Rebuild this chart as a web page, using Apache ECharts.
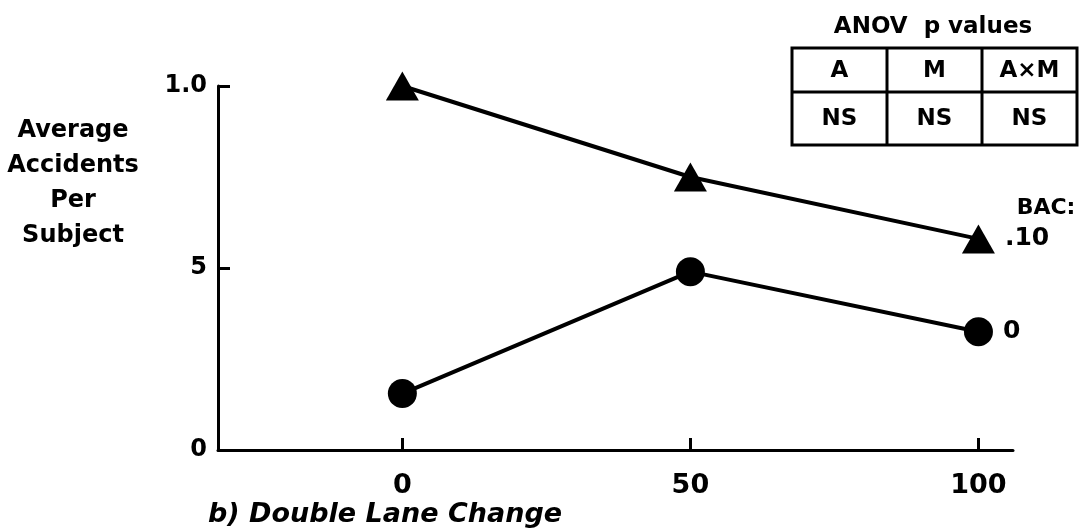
<!DOCTYPE html>
<html>
<head>
<meta charset="utf-8">
<script src="https://cdn.jsdelivr.net/npm/echarts@6/dist/echarts.min.js"></script>
<style>
html,body{margin:0;padding:0;background:#fff;}
#chart{width:1079px;height:532px;}
</style>
</head>
<body>
<div id="chart"></div>
<script>
// ---- data ----
const xValues = [0, 50, 100];
const bac10 = [1.0, 0.75, 0.58];
const bac0 = [0.155, 0.49, 0.325];
const xTickValues = [0, 50, 100];
const yTickValues = [0, 0.5, 1.0];
const yTickLabels = ['0', '5', '1.0'];
const seriesNames = ['.10', '0'];
const tableHeader = ['A', 'M', 'A\u00d7M'];
const tableRow = ['NS', 'NS', 'NS'];

const FONT = '"DejaVu Sans", sans-serif';
const chart = echarts.init(document.getElementById('chart'), null, {renderer: 'canvas'});

function pairs(vals) { return xValues.map((x, i) => [x, vals[i]]); }

const lastLabel = (name) => ({
  show: true,
  position: 'right',
  distance: 10,
  formatter: (p) => p.dataIndex === xValues.length - 1 ? name : '',
  color: '#000',
  fontFamily: FONT,
  fontWeight: 'bold',
  fontSize: 25
});

// table geometry (layout only)
const colX = [792, 887, 982, 1077];
const rowY = [48, 92, 145];
const tx = colX[0], ty = rowY[0], tw = colX[3] - colX[0], th = rowY[2] - rowY[0];

const graphics = [
  {type: 'rect', shape: {x: tx, y: ty, width: tw, height: th}, style: {fill: 'none', stroke: '#000', lineWidth: 3}},
  {type: 'line', shape: {x1: tx, y1: rowY[1], x2: tx + tw, y2: rowY[1]}, style: {stroke: '#000', lineWidth: 3}},
  {type: 'line', shape: {x1: colX[1], y1: ty, x2: colX[1], y2: ty + th}, style: {stroke: '#000', lineWidth: 3}},
  {type: 'line', shape: {x1: colX[2], y1: ty, x2: colX[2], y2: ty + th}, style: {stroke: '#000', lineWidth: 3}},
  {type: 'text', x: 933, y: 27, style: {text: 'ANOV  p values', fill: '#000', font: 'bold 23px ' + FONT, align: 'center', verticalAlign: 'middle'}},
  {type: 'text', x: 1046, y: 208, style: {text: 'BAC:', fill: '#000', font: 'bold 22px ' + FONT, align: 'center', verticalAlign: 'middle'}},
  {type: 'text', x: 73, y: 113, style: {text: 'Average\nAccidents\nPer\nSubject', fill: '#000', font: 'bold 24px ' + FONT, align: 'center', verticalAlign: 'top', lineHeight: 35}},
  {type: 'text', x: 208, y: 515, style: {text: 'b) Double Lane Change', fill: '#000', font: 'italic bold 27px ' + FONT, verticalAlign: 'middle'}}
];
for (let c = 0; c < 3; c++) {
  const cx = (colX[c] + colX[c + 1]) / 2;
  graphics.push({type: 'text', x: cx, y: (rowY[0] + rowY[1]) / 2 + 1, style: {text: tableHeader[c], fill: '#000', font: 'bold 23px ' + FONT, align: 'center', verticalAlign: 'middle'}});
  graphics.push({type: 'text', x: cx, y: (rowY[1] + rowY[2]) / 2 + 1, style: {text: tableRow[c], fill: '#000', font: 'bold 23px ' + FONT, align: 'center', verticalAlign: 'middle'}});
}

chart.setOption({
  animation: false,
  backgroundColor: '#fff',
  grid: {left: 218, right: 66, top: 86, bottom: 82, containLabel: false},
  xAxis: {
    type: 'value', min: -32, max: 106,
    axisLine: {show: true, onZero: false, lineStyle: {color: '#000', width: 3}},
    axisTick: {show: true, inside: true, length: 12, customValues: xTickValues, lineStyle: {color: '#000', width: 3}},
    axisLabel: {customValues: xTickValues, color: '#000', fontFamily: FONT, fontWeight: 'bold', fontSize: 27, margin: 22},
    splitLine: {show: false}
  },
  yAxis: {
    type: 'value', min: 0, max: 1, interval: 0.5,
    axisLine: {show: true, onZero: false, lineStyle: {color: '#000', width: 3}},
    axisTick: {show: true, inside: true, length: 12, customValues: [0.5, 1.0], lineStyle: {color: '#000', width: 3}},
    axisLabel: {
      customValues: yTickValues,
      formatter: (v) => { const i = yTickValues.findIndex(t => Math.abs(t - v) < 1e-6); return i >= 0 ? yTickLabels[i] : ''; },
      color: '#000', fontFamily: FONT, fontWeight: 'bold', fontSize: 24, margin: 11
    },
    splitLine: {show: false}
  },
  series: [
    {
      name: seriesNames[0], type: 'line', data: pairs(bac10),
      symbol: 'triangle', symbolSize: [33, 29],
      itemStyle: {color: '#000'}, lineStyle: {color: '#000', width: 4},
      label: lastLabel(seriesNames[0])
    },
    {
      name: seriesNames[1], type: 'line', data: pairs(bac0),
      symbol: 'circle', symbolSize: 29,
      itemStyle: {color: '#000'}, lineStyle: {color: '#000', width: 4},
      label: lastLabel(seriesNames[1])
    }
  ],
  graphic: graphics
});
</script>
</body>
</html>
